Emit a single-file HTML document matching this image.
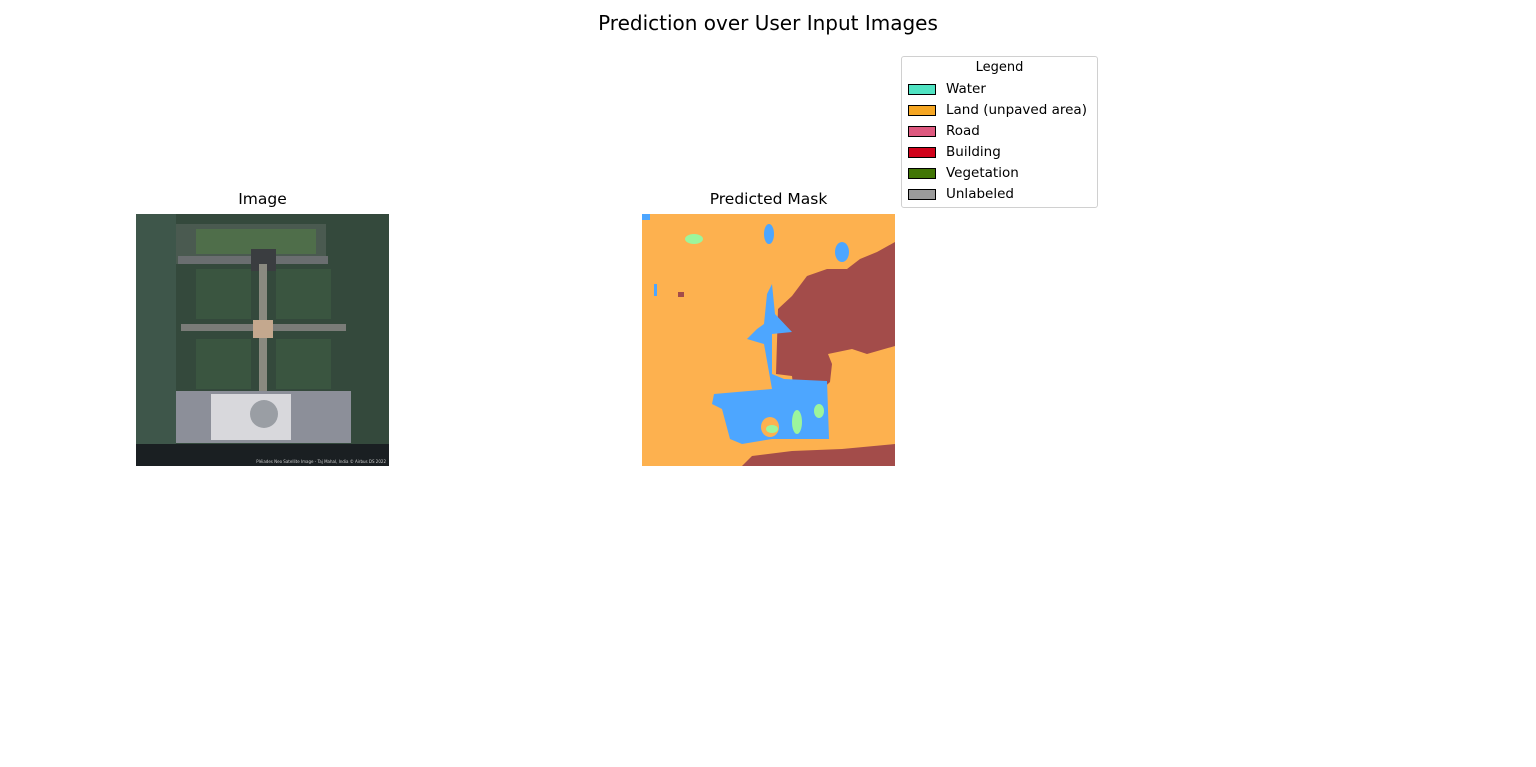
<!DOCTYPE html>
<html><head><meta charset="utf-8"><style>
body{margin:0;background:#fff;width:1536px;height:767px;overflow:hidden;font-family:"DejaVu Sans","Liberation Sans",sans-serif;}
.t{position:absolute;color:#000;white-space:nowrap}
</style></head><body>
<div class="t" style="left:0;width:1536px;text-align:center;top:11px;font-size:20px">Prediction over User Input Images</div>
<div class="t" style="left:136px;width:253px;text-align:center;top:190px;font-size:15.5px">Image</div>
<div class="t" style="left:642px;width:253px;text-align:center;top:190px;font-size:15.5px">Predicted Mask</div>

<svg style="position:absolute;left:136px;top:214px" width="253" height="252" viewBox="0 0 253 252">
<rect width="253" height="252" fill="#34493c"/>
<rect x="0" y="0" width="40" height="252" fill="#3e564a"/>
<rect x="40" y="10" width="150" height="40" fill="#4a5a50"/>
<rect x="60" y="15" width="120" height="25" fill="#4f6e4a"/>
<rect x="42" y="42" width="150" height="8" fill="#6a6e70"/>
<rect x="115" y="35" width="25" height="22" fill="#3a3d40"/>
<rect x="123" y="50" width="8" height="130" fill="#8a8a80"/>
<rect x="45" y="110" width="165" height="7" fill="#7a7c78"/>
<rect x="117" y="106" width="20" height="18" fill="#c4a88e"/>
<rect x="60" y="55" width="55" height="50" fill="#3a5540"/>
<rect x="140" y="55" width="55" height="50" fill="#3a5540"/>
<rect x="60" y="125" width="55" height="50" fill="#3a5540"/>
<rect x="140" y="125" width="55" height="50" fill="#3a5540"/>
<rect x="40" y="177" width="175" height="52" fill="#8c8f99"/>
<rect x="75" y="180" width="80" height="46" fill="#d8d8dc"/>
<circle cx="128" cy="200" r="14" fill="#9a9ea4"/>
<rect x="0" y="230" width="253" height="22" fill="#1a1f22"/>
<text x="250" y="249" font-size="4" fill="#ccc" text-anchor="end">Pléiades Neo Satellite Image - Taj Mahal, India © Airbus DS 2022</text>
</svg>

<svg style="position:absolute;left:642px;top:214px" width="253" height="252" viewBox="0 0 253 252">
<rect width="253" height="252" fill="#fdb14f"/>
<polygon points="253,28 235,38 218,45 205,55 185,55 165,62 150,82 136,95 134,160 150,162 152,180 175,180 188,168 190,150 186,140 210,135 225,140 253,132" fill="#a34c4a"/>
<polygon points="100,252 110,242 150,237 200,235 253,230 253,252" fill="#a34c4a"/>
<rect x="36" y="78" width="6" height="5" fill="#a34c4a"/>
<polygon points="125,80 130,70 133,100 150,118 130,120 130,160 142,165 185,167 187,225 130,225 100,230 88,225 80,195 70,190 72,180 130,175 122,130 105,125 115,115 122,110" fill="#4da6ff"/>
<ellipse cx="127" cy="20" rx="5" ry="10" fill="#4da6ff"/>
<ellipse cx="200" cy="38" rx="7" ry="10" fill="#4da6ff"/>
<rect x="12" y="70" width="3" height="12" fill="#4da6ff"/>
<rect x="0" y="0" width="8" height="6" fill="#4da6ff"/>
<ellipse cx="128" cy="213" rx="9" ry="10" fill="#fdb14f"/>
<ellipse cx="52" cy="25" rx="9" ry="5" fill="#9cf59c"/>
<ellipse cx="155" cy="208" rx="5" ry="12" fill="#9cf59c"/>
<ellipse cx="177" cy="197" rx="5" ry="7" fill="#9cf59c"/>
<ellipse cx="130" cy="215" rx="6" ry="4" fill="#9cf59c"/>
</svg>

<div style="position:absolute;left:901px;top:56px;width:195px;height:150px;border:1px solid #d0d0d0;border-radius:3px;background:#fff">
<div class="t" style="left:0;width:195px;text-align:center;top:3px;font-size:13px">Legend</div>
<div id="entries"></div>
</div>
<script>
const legendLabels=["Water","Land (unpaved area)","Road","Building","Vegetation","Unlabeled"];
const legendColors=["#50e3c2","#f5a623","#de597f","#d0021b","#417505","#9b9b9b"];
const box=document.getElementById('entries');
legendLabels.forEach((lab,i)=>{
  const e=document.createElement('div');
  
  
  e.style.cssText='position:absolute;left:0;top:'+(24+i*21)+'px;height:18px;width:195px';
  const p=document.createElement('div');
  
  
  p.style.cssText='position:absolute;left:6px;top:3px;width:26px;height:9px;border:1px solid #000;background:'+legendColors[i];
  const t=document.createElement('div');
  
  
  t.className='t';
  t.style.cssText='left:44px;top:0;font-size:13.5px';
  t.textContent=lab;
  e.appendChild(p);e.appendChild(t);box.appendChild(e);
});
</script>
</body></html>
